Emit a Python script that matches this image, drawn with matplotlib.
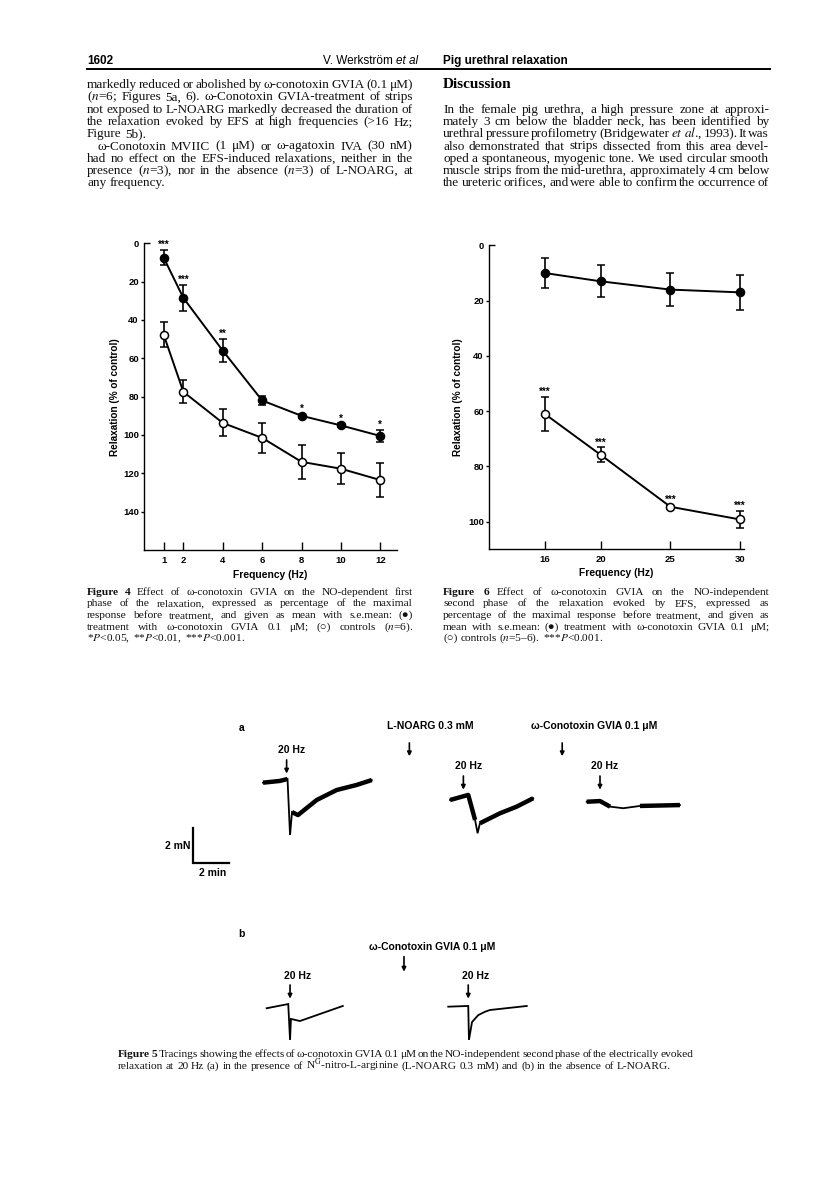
import matplotlib
matplotlib.use('Agg')
import matplotlib.pyplot as plt

plt.rcParams['mathtext.fontset'] = 'stix'
SERIF = ['Liberation Serif', 'DejaVu Serif', 'DejaVu Sans']
SANS = ['Liberation Sans', 'DejaVu Sans']
COND = ['Liberation Sans Narrow', 'Liberation Sans', 'DejaVu Sans']

# ---------------- data ----------------
fig4_freq = [1, 2, 4, 6, 8, 10, 12]
fig4_treated = [7.5, 28.5, 56, 82, 90, 95, 100.5]
fig4_treated_sem = [4, 7, 6, 2.5, 1, 1, 3]
fig4_control = [47.7, 77.5, 93.7, 101.5, 114, 117.6, 123.5]
fig4_control_sem = [6.5, 6, 7, 8, 9, 8, 9]
fig4_sig = ['***', '***', '**', '', '*', '*', '*']
fig4_yticks = [20, 40, 60, 80, 100, 120, 140]

fig6_freq = [16, 20, 25, 30]
fig6_treated = [10, 13, 16, 17]
fig6_treated_sem = [5.5, 5.8, 6, 6.3]
fig6_control = [61, 75.8, 94.6, 99.2]
fig6_control_sem = [6.2, 2.7, 0.8, 3.2]
fig6_sig = ['***', '***', '***', '***']
fig6_yticks = [20, 40, 60, 80, 100]

# Figure 5 tracings (time in min, tension in mN)
a1_t = [6.28, 7.22, 7.64, 7.78, 7.89, 8.22, 9.26, 10.37, 11.48, 12.32]
a1_f = [14.99, 15.09, 15.2, 12.0, 13.31, 13.14, 14.0, 14.57, 14.86, 15.14]
a2_t = [16.67, 17.68, 18.06, 18.2, 18.33, 19.44, 20.37, 21.29]
a2_f = [14.0, 14.29, 12.86, 12.1, 12.67, 13.24, 13.62, 14.1]
a3_t = [24.26, 25.0, 25.56, 26.29, 27.22, 29.44]
a3_f = [13.9, 13.94, 13.62, 13.53, 13.66, 13.71]
b1_t = [6.48, 7.68, 7.78, 7.83, 8.33, 10.71]
b1_f = [2.10, 2.34, 0.29, 1.49, 1.37, 2.23]
b2_t = [16.57, 17.68, 17.72, 17.89, 18.24, 18.61, 18.89, 20.93]
b2_f = [2.19, 2.23, 0.29, 1.31, 1.71, 1.90, 2.0, 2.23]

left_lines = [
    "markedly reduced or abolished by ω-conotoxin GVIA (0.1 μM)",
    "($n$=6; Figures 5a, 6). ω-Conotoxin GVIA-treatment of strips",
    "not exposed to L-NOARG markedly decreased the duration of",
    "the relaxation evoked by EFS at high frequencies (>16 Hz;",
    "Figure 5b).",
    "ω-Conotoxin MVIIC (1 μM) or ω-agatoxin IVA (30 nM)",
    "had no effect on the EFS-induced relaxations, neither in the",
    "presence ($n$=3), nor in the absence ($n$=3) of L-NOARG, at",
    "any frequency.",
]
left_flags = [(1, 0), (1, 0), (1, 0), (1, 0), (0, 0), (1, 10), (1, 0), (1, 0), (0, 0)]
right_lines = [
    "In the female pig urethra, a high pressure zone at approxi-",
    "mately 3 cm below the bladder neck, has been identified by",
    "urethral pressure profilometry (Bridgewater $et$ $al$., 1993). It was",
    "also demonstrated that strips dissected from this area devel-",
    "oped a spontaneous, myogenic tone. We used circular smooth",
    "muscle strips from the mid-urethra, approximately 4 cm below",
    "the ureteric orifices, and were able to confirm the occurrence of",
]
cap4_lines = [
    "**Figure** **4** Effect of ω-conotoxin GVIA on the NO-dependent first",
    "phase of the relaxation, expressed as percentage of the maximal",
    "response before treatment, and given as mean with s.e.mean: (●)",
    "treatment with ω-conotoxin GVIA 0.1 μM; (○) controls ($n$=6).",
    "*$P$<0.05, **$P$<0.01, ***$P$<0.001.",
]
cap6_lines = [
    "**Figure** **6** Effect of ω-conotoxin GVIA on the NO-independent",
    "second phase of the relaxation evoked by EFS, expressed as",
    "percentage of the maximal response before treatment, and given as",
    "mean with s.e.mean: (●) treatment with ω-conotoxin GVIA 0.1 μM;",
    "(○) controls ($n$=5–6). ***$P$<0.001.",
]
cap5_lines = [
    "**Figure** **5** Tracings showing the effects of ω-conotoxin GVIA 0.1 μM on the NO-independent second phase of the electrically evoked",
    "relaxation at 20 Hz (a) in the presence of N$^{\\mathrm{G}}$-nitro-L-arginine (L-NOARG 0.3 mM) and (b) in the absence of L-NOARG.",
]

# ---------------- page ----------------
W, H = 816, 1181
fig = plt.figure(figsize=(W / 100, H / 100), dpi=100)
page = fig.add_axes([0, 0, 1, 1])
page.set_xlim(0, W)
page.set_ylim(H, 0)
page.axis('off')
renderer = fig.canvas.get_renderer()


def parse(word):
    if word.startswith('**') and word.endswith('**') and len(word) > 4 and not word.startswith('***'):
        return word[2:-2], 'bold'
    return word, 'normal'


def word_widths(line, fs, family):
    out = []
    for w in line.split():
        t, wt = parse(w)
        o = page.text(0, 0, t, fontsize=fs, family=family, weight=wt)
        out.append(o.get_window_extent(renderer).width)
        o.remove()
    return out


def fit_size(specs, fs0, family, gmin):
    sizes = []
    for line, x0, x1 in specs:
        ws = word_widths(line, fs0, family)
        sizes.append(fs0 * ((x1 - x0) - (len(ws) - 1) * gmin) / sum(ws))
    return min(sizes)


def set_line(x0, x1, y, line, fs, family, justify=True):
    words = line.split()
    objs = []
    for w in words:
        t, wt = parse(w)
        objs.append(page.text(0, y, t, fontsize=fs, family=family, weight=wt,
                              va='baseline', ha='left', color='#111111'))
    widths = [o.get_window_extent(renderer).width for o in objs]
    space = fs * 1.389 * 0.25
    gap = (x1 - x0 - sum(widths)) / (len(words) - 1) if (justify and len(words) > 1) else space
    x = x0
    for o, w in zip(objs, widths):
        o.set_x(x)
        x += w + gap


# header
page.text(87, 64, '1602', family=COND, weight='bold', fontsize=8.5, va='baseline')
ea = page.text(418, 64, 'et al', family=COND, style='italic', fontsize=8.5, va='baseline', ha='right')
wa = ea.get_window_extent(renderer).width
page.text(418 - wa - 3, 64, 'V. Werkström', family=COND, fontsize=8.5, va='baseline', ha='right')
page.text(443, 64, 'Pig urethral relaxation', family=COND, weight='bold', fontsize=8.5, va='baseline')
page.plot([87, 770], [68.5, 68.5], color='k', lw=1.4)

# body text
L0, L1, R0, R1 = 87, 413, 443, 769
specs = [(ln, L0 + ind, L1) for ln, (j, ind) in zip(left_lines, left_flags) if j]
specs += [(ln, R0, R1) for ln in right_lines]
fs_body = fit_size(specs, 9.0, SERIF, 1.3)
y0, dy = 88, 12.3
for i, (ln, (j, ind)) in enumerate(zip(left_lines, left_flags)):
    set_line(L0 + ind, L1, y0 + i * dy, ln, fs_body, SERIF, justify=bool(j))
page.text(R0, y0, 'Discussion', family=SERIF, weight='bold', fontsize=fs_body * 1.15, va='baseline')
for i, ln in enumerate(right_lines):
    set_line(R0, R1, y0 + (i + 2) * dy, ln, fs_body, SERIF, justify=True)

# captions
cspecs = [(ln, L0, L1) for ln in cap4_lines[:-1]] + [(ln, R0, R1) for ln in cap6_lines[:-1]]
cspecs += [(cap5_lines[0], 118, 693)]
fs_cap = fit_size(cspecs, 8.0, SERIF, 1.4)
for i, ln in enumerate(cap4_lines):
    set_line(L0, L1, 595 + i * 11.5, ln, fs_cap, SERIF, justify=i < len(cap4_lines) - 1)
for i, ln in enumerate(cap6_lines):
    set_line(R0, R1, 595 + i * 11.5, ln, fs_cap, SERIF, justify=i < len(cap6_lines) - 1)
set_line(118, 693, 1057, cap5_lines[0], fs_cap, SERIF, justify=True)
set_line(118, 693, 1069, cap5_lines[1], fs_cap, SERIF, justify=False)


# ---------------- charts ----------------
def px_axes(l, t, r, b):
    return fig.add_axes([l / W, 1 - b / H, (r - l) / W, (b - t) / H])


def style_axes(ax, xt, yt, ylabcoord, xlabcoord):
    for s in ('top', 'right'):
        ax.spines[s].set_visible(False)
    for s in ('left', 'bottom'):
        ax.spines[s].set_linewidth(1.0)
    ax.set_xticks(xt)
    ax.set_xticklabels([str(v) for v in xt])
    ax.set_yticks(yt)
    ax.set_yticklabels([str(v) for v in yt])
    ax.set_yticks([0], labels=['0'], minor=True)
    ax.tick_params(axis='x', direction='in', length=6, width=1.0, pad=4, labelsize=6.8)
    ax.tick_params(axis='y', which='major', direction='out', length=2.5, width=1.0, pad=1.2, labelsize=6.8)
    ax.tick_params(axis='y', which='minor', direction='in', length=4, width=1.0, pad=4.0, labelsize=6.8)
    for lab in ax.get_xticklabels() + ax.get_yticklabels() + ax.get_yticklabels(minor=True):
        lab.set_fontweight('bold')
        lab.set_family(SANS)
    ax.set_ylabel('Relaxation (% of control)', fontsize=7.2, weight='bold', family=SANS)
    ax.yaxis.set_label_coords(*ylabcoord)
    ax.yaxis.label.set_va('center')
    ax.yaxis.label.set_ha('center')
    ax.set_xlabel('Frequency (Hz)', fontsize=7.4, weight='bold', family=SANS)
    ax.xaxis.set_label_coords(*xlabcoord)
    ax.xaxis.label.set_va('center')
    ax.patch.set_alpha(0)


def draw_series(ax, x, y, e, filled, sig=None):
    ax.errorbar(x, y, yerr=e, fmt='-o', color='k', mfc='k' if filled else 'white', mec='k',
                mew=1.1, ms=5.8, lw=1.4, elinewidth=1.2, capsize=2.8, capthick=1.2,
                clip_on=False, zorder=4 if filled else 3)
    if sig:
        for xi, yi, ei, s in zip(x, y, e, sig):
            if s:
                ax.text(xi, yi - ei, s, ha='center', va='bottom', fontsize=7, weight='bold',
                        family=SANS, clip_on=False)


ax4 = px_axes(144, 243.3, 397, 550)
ax4.set_xlim(0, 12.85)
ax4.set_ylim(160, 0)
style_axes(ax4, fig4_freq, fig4_yticks, ((115 - 144) / 253, 0.5), (0.5, (550 - 575) / 306.7))
draw_series(ax4, fig4_freq, fig4_control, fig4_control_sem, False)
draw_series(ax4, fig4_freq, fig4_treated, fig4_treated_sem, True, fig4_sig)

ax6 = px_axes(489, 245.4, 743.6, 549.3)
ax6.set_xlim(12, 30.25)
ax6.set_ylim(110, 0)
style_axes(ax6, fig6_freq, fig6_yticks, ((458 - 489) / 254.6, 0.5), (0.5, (549.3 - 573) / 303.9))
draw_series(ax6, fig6_freq, fig6_treated, fig6_treated_sem, True)
draw_series(ax6, fig6_freq, fig6_control, fig6_control_sem, False, fig6_sig)

# ---------------- figure 5 tracings ----------------
ax5 = px_axes(150, 700, 700, 1045)
ax5.set_xlim(0, 550 / 18)
ax5.set_ylim(0, 345 / 17.5)
ax5.axis('off')


def trace(t, f, noisy):
    ax5.plot(t, f, color='k', lw=1.3, solid_joinstyle='miter')
    if noisy:
        i_min = f.index(min(f))
        i_st = i_min - 1
        ax5.plot(t[:i_st + 1], f[:i_st + 1], color='k', lw=3.2, solid_capstyle='butt')
        ax5.plot(t[i_min + 1:], f[i_min + 1:], color='k', lw=3.2, solid_capstyle='butt')


for t, f in ((a1_t, a1_f), (a2_t, a2_f), (a3_t, a3_f)):
    trace(t, f, True)
for t, f in ((b1_t, b1_f), (b2_t, b2_f)):
    trace(t, f, False)

lab_kw = dict(fontsize=7.5, weight='bold', family=SANS, ha='center', va='center')


def arrow(x, ytop, ybot):
    ax5.annotate('', xy=(x, ybot), xytext=(x, ytop),
                 arrowprops=dict(arrowstyle='-|>', color='k', lw=1.2, mutation_scale=6,
                                 shrinkA=0, shrinkB=0))


ax5.text(5.09, 18.10, 'a', **lab_kw)
ax5.text(15.56, 18.23, 'L-NOARG 0.3 mM', **lab_kw)
arrow(14.41, 17.26, 16.50)
ax5.text(24.67, 18.23, 'ω-Conotoxin GVIA 0.1 μM', **lab_kw)
arrow(22.9, 17.26, 16.50)
for x, y in ((7.59, 16.86), (17.41, 15.94), (25.0, 15.94)):
    ax5.text(x + 0.28, y, '20 Hz', **lab_kw)
    arrow(x, y - 0.57, y - 1.35)

# scale bar
ax5.plot([2.41, 2.41, 4.41], [12.38, 10.38, 10.38], color='k', lw=1.6, solid_joinstyle='miter')
ax5.text(2.25, 11.39, '2 mN', fontsize=7.5, weight='bold', family=SANS, ha='right', va='center')
ax5.text(3.5, 9.81, '2 min', **lab_kw)

ax5.text(5.09, 6.33, 'b', **lab_kw)
ax5.text(15.65, 5.62, 'ω-Conotoxin GVIA 0.1 μM', **lab_kw)
arrow(14.11, 5.05, 4.19)
for x in (7.78, 17.68):
    ax5.text(x + 0.4, 3.94, '20 Hz', **lab_kw)
    arrow(x, 3.43, 2.65)

fig.savefig('out.png', dpi=100)
